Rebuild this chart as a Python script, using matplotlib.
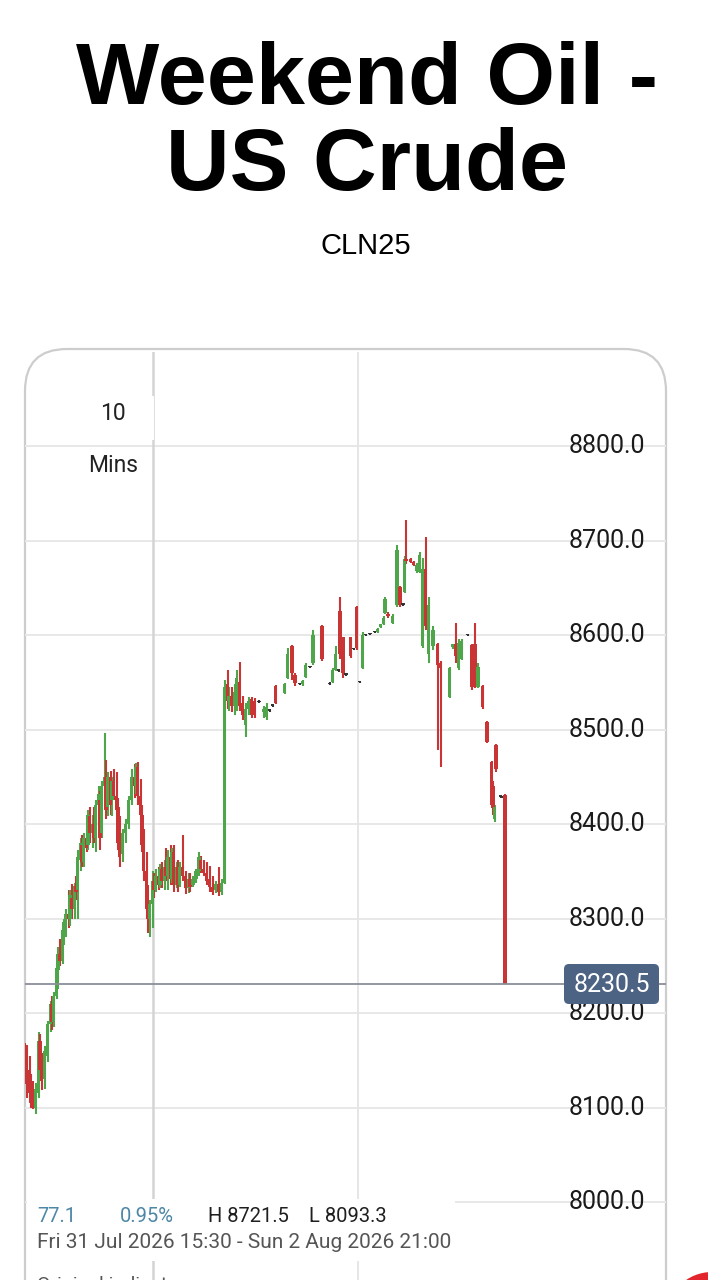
"""Weekend Oil - US Crude: 10 min candles, phone-screenshot style."""
import numpy as np
import matplotlib
matplotlib.use("Agg")
import matplotlib.pyplot as plt
from matplotlib.patches import FancyBboxPatch, Rectangle, Circle

# ---- data (10-min bar slot from Fri 15:30, OHLC) ----
slot = [0, 1, 3, 4, 5, 7, 9, 10, 11, 13, 15, 17, 18, 19, 21, 22, 23, 25, 26, 27,
        29, 30, 31, 33, 34, 35, 37, 38, 39, 41, 42, 43, 45, 46, 47, 49, 50, 51, 53, 54,
        55, 57, 58, 59, 61, 62, 63, 65, 67, 69, 71, 73, 74, 75, 77, 78, 79, 81, 82, 83,
        85, 86, 87, 89, 90, 91, 93, 94, 95, 97, 98, 99, 101, 102, 103, 105, 107, 109, 110, 112,
        114, 116, 117, 119, 121, 123, 125, 127, 129, 131, 133, 135, 136, 138, 140, 141, 143, 145, 147, 149,
        151, 153, 156, 159, 161, 163, 165, 167, 173, 175, 178, 180, 183, 185, 187, 190, 192, 198, 203, 205,
        207, 209, 210, 212, 214, 217, 219, 221, 223, 225, 227, 230, 233, 235, 237, 239, 240, 242, 245, 248,
        250, 252, 253, 254, 257, 259, 261, 263, 265, 267, 269, 272, 275, 277, 283, 285, 287, 289, 291, 295,
        298, 300, 302, 305, 308, 311, 312, 313, 314, 317, 318, 320]
opn = [8150, 8160, 8140, 8125, 8110, 8100, 8115, 8170, 8150, 8130, 8155, 8188, 8210, 8190, 8218, 8245, 8262, 8255, 8280, 8290,
       8305, 8300, 8322, 8310, 8334, 8330, 8362, 8378, 8360, 8385, 8378, 8408, 8390, 8400, 8385, 8420, 8425, 8390, 8440, 8450,
       8418, 8450, 8425, 8445, 8430, 8418, 8380, 8368, 8390, 8400, 8425, 8450, 8440, 8460, 8430, 8410, 8380, 8350, 8312, 8300,
       8315, 8340, 8330, 8345, 8335, 8352, 8340, 8355, 8345, 8365, 8342, 8370, 8335, 8355, 8335, 8355, 8345, 8332, 8342, 8335,
       8342, 8350, 8362, 8352, 8348, 8342, 8333, 8330, 8336, 8328, 8338, 8548, 8530, 8535, 8525, 8525, 8550, 8528, 8505, 8522,
       8532, 8530, 8530, 8518, 8513, 8520, 8525, 8546, 8539, 8555, 8588, 8558, 8548, 8548, 8556, 8566, 8570, 8610, 8548, 8550,
       8563, 8562, 8625, 8598, 8558, 8598, 8585, 8630, 8550, 8565, 8600, 8601, 8603, 8603, 8608, 8612, 8623, 8622, 8613, 8632,
       8651, 8632, 8645, 8680, 8680, 8677, 8668, 8667, 8588, 8670, 8580, 8588, 8590, 8570, 8534, 8587, 8590, 8565, 8575, 8600,
       8589, 8590, 8545, 8546, 8508, 8466, 8440, 8405, 8484, 8430, 8429, 8431]
high = [8168, 8166, 8155, 8135, 8128, 8126, 8180, 8178, 8158, 8165, 8192, 8213, 8218, 8222, 8252, 8270, 8278, 8292, 8300, 8310,
        8330, 8330, 8336, 8338, 8345, 8372, 8385, 8388, 8390, 8395, 8415, 8418, 8410, 8418, 8425, 8440, 8435, 8445, 8496, 8468,
        8455, 8456, 8450, 8458, 8455, 8428, 8408, 8395, 8405, 8430, 8458, 8463, 8465, 8466, 8448, 8420, 8395, 8370, 8335, 8320,
        8350, 8348, 8352, 8355, 8358, 8360, 8362, 8375, 8372, 8378, 8375, 8378, 8360, 8362, 8360, 8388, 8350, 8348, 8348, 8345,
        8352, 8370, 8366, 8362, 8360, 8356, 8345, 8340, 8355, 8342, 8552, 8563, 8545, 8545, 8548, 8563, 8571, 8535, 8528, 8534,
        8534, 8533, 8531, 8525, 8528, 8522, 8526, 8547, 8549, 8586, 8589, 8560, 8549, 8552, 8570, 8567, 8605, 8611, 8550, 8565,
        8588, 8563, 8640, 8598, 8559, 8598, 8586, 8631, 8551, 8603, 8601, 8602, 8604, 8607, 8612, 8620, 8640, 8624, 8622, 8695,
        8652, 8633, 8684, 8722, 8681, 8678, 8676, 8688, 8682, 8704, 8640, 8610, 8592, 8572, 8566, 8591, 8613, 8596, 8596, 8601,
        8590, 8613, 8570, 8547, 8509, 8467, 8445, 8420, 8485, 8431, 8430, 8432]
low = [8130, 8110, 8105, 8100, 8098, 8093, 8110, 8130, 8118, 8120, 8148, 8180, 8182, 8185, 8215, 8225, 8250, 8252, 8272, 8280,
       8290, 8292, 8300, 8300, 8320, 8300, 8350, 8355, 8355, 8370, 8372, 8380, 8375, 8380, 8370, 8400, 8372, 8385, 8420, 8405,
       8408, 8410, 8408, 8425, 8410, 8372, 8355, 8360, 8380, 8395, 8420, 8428, 8432, 8420, 8405, 8370, 8340, 8300, 8285, 8280,
       8290, 8322, 8328, 8330, 8332, 8332, 8330, 8340, 8330, 8335, 8338, 8328, 8332, 8328, 8333, 8340, 8326, 8327, 8328, 8333,
       8338, 8345, 8348, 8345, 8335, 8328, 8325, 8327, 8324, 8325, 8336, 8522, 8520, 8518, 8515, 8520, 8520, 8510, 8492, 8515,
       8512, 8512, 8528, 8512, 8510, 8518, 8524, 8527, 8538, 8553, 8552, 8546, 8547, 8546, 8555, 8565, 8568, 8572, 8547, 8549,
       8562, 8561, 8575, 8555, 8557, 8576, 8584, 8584, 8549, 8564, 8599, 8600, 8602, 8602, 8607, 8611, 8622, 8618, 8612, 8630,
       8630, 8631, 8644, 8675, 8676, 8673, 8666, 8666, 8586, 8605, 8570, 8584, 8478, 8460, 8533, 8585, 8570, 8563, 8574, 8599,
       8542, 8544, 8544, 8522, 8486, 8417, 8410, 8402, 8455, 8428, 8427, 8230.5]
close = [8140, 8125, 8115, 8108, 8105, 8120, 8170, 8140, 8128, 8160, 8188, 8210, 8190, 8218, 8248, 8262, 8255, 8288, 8296, 8305,
         8300, 8325, 8310, 8334, 8328, 8365, 8380, 8360, 8385, 8375, 8410, 8390, 8400, 8385, 8420, 8432, 8385, 8440, 8450, 8415,
         8450, 8420, 8445, 8430, 8415, 8380, 8365, 8390, 8400, 8425, 8450, 8440, 8460, 8430, 8410, 8378, 8350, 8310, 8300, 8315,
         8340, 8330, 8345, 8335, 8352, 8340, 8355, 8345, 8365, 8342, 8370, 8335, 8355, 8335, 8355, 8345, 8332, 8342, 8333, 8342,
         8350, 8365, 8352, 8348, 8340, 8333, 8328, 8336, 8328, 8338, 8545, 8530, 8535, 8525, 8540, 8555, 8525, 8515, 8522, 8530,
         8515, 8515, 8529, 8522, 8524, 8521, 8525, 8528, 8548, 8580, 8560, 8549, 8548, 8551, 8568, 8566, 8600, 8575, 8549, 8563,
         8580, 8562, 8580, 8560, 8558, 8578, 8585, 8586, 8550, 8600, 8600, 8601, 8603, 8606, 8612, 8618, 8638, 8620, 8620, 8690,
         8632, 8632, 8680, 8678, 8677, 8674, 8674, 8685, 8670, 8610, 8632, 8605, 8568, 8565, 8565, 8590, 8578, 8592, 8594, 8600,
         8545, 8548, 8566, 8524, 8487, 8420, 8418, 8418, 8458, 8429, 8428, 8230.5]

price_ticks = [8000, 8100, 8200, 8300, 8400, 8500, 8600, 8700, 8800]
vgrid_slots = [85, 222]
last_price = 8230.5
title_lines = ["Weekend Oil -", "US Crude"]
symbol = "CLN25"
stats = ["77.1", "0.95%", "H 8721.5", "L 8093.3"]
date_range = "Fri 31 Jul 2026 15:30 - Sun 2 Aug 2026 21:00"

GREEN = "#4fa54a"
RED = "#c93434"
W, H = 708, 1280

fig = plt.figure(figsize=(W / 100, H / 100), dpi=100)
fig.patch.set_facecolor("white")

# background layer (pixel coords)
bg = fig.add_axes([0, 0, 1, 1], zorder=0)
bg.set_xlim(0, W); bg.set_ylim(H, 0); bg.axis("off")
bg.add_patch(FancyBboxPatch((25, 349), 641, 1100, boxstyle="round,pad=0,rounding_size=42",
                            fc="white", ec="#cdcdcd", lw=1.6))
for yb, line in zip([104, 190], title_lines):
    bg.text(367, yb, line, ha="center", va="baseline", fontsize=63.5, fontweight="bold",
            family="Liberation Sans")
bg.text(366, 246, symbol, ha="center", va="center", fontsize=21, family="Liberation Sans")

# chart axes
x0, x1, ytop = 25, 666, 352
ax = fig.add_axes([x0 / W, 0, (x1 - x0) / W, (H - ytop) / H], zorder=1)
ax.patch.set_alpha(0)
px = 0.945  # pixels per price unit
ax.set_ylim(8000 - (H - 1202) / px, 8800 + (446 - ytop) / px)
ax.set_xlim(0, (x1 - x0) / 1.5)
for s in ax.spines.values():
    s.set_visible(False)
ax.set_xticks([]); ax.set_yticks([])

for p in price_ticks:
    ax.axhline(p, color="#e8e8e8", lw=1.4, zorder=0)
for i, v in enumerate(vgrid_slots):
    ax.axvline(v, color="#d4d4d4" if i == 0 else "#e6e6e6", lw=1.8 if i == 0 else 1.4, zorder=0)

o = np.array(opn, float); c = np.array(close, float)
hi = np.array(high, float); lo = np.array(low, float); k = np.array(slot, float)
cols = np.where(np.abs(c - o) < 2, "#333333", np.where(c >= o, GREEN, RED))
ax.vlines(k, lo, hi, colors=cols, lw=1.5, zorder=2)
ax.bar(k, np.maximum(np.abs(c - o), 1.5), bottom=np.minimum(o, c), width=2.4,
       color=cols, lw=0, zorder=3)

ax.axhline(last_price, color="#8a8f98", lw=1.3, zorder=4)

yl = ax.get_yaxis_transform()
for p in price_ticks:
    ax.text(0.967, p, f"{p:.1f}", transform=yl, ha="right", va="center",
            fontsize=18, family="Roboto", color="#1a1a1a", zorder=5)

# foreground layer
fg = fig.add_axes([0, 0, 1, 1], zorder=3)
fg.set_xlim(0, W); fg.set_ylim(H, 0); fg.axis("off")
fg.add_patch(Rectangle((140, 396), 14, 44, fc="white", ec="none"))
fg.text(113, 413, "10", ha="center", va="center", fontsize=16.5, family="Roboto", color="#222")
fg.text(113, 465, "Mins", ha="center", va="center", fontsize=16.5, family="Roboto", color="#222")

fg.add_patch(FancyBboxPatch((564, 964), 95, 40, boxstyle="round,pad=0,rounding_size=5",
                            fc="#4d6384", ec="none"))
fg.text(611.5, 985, f"{last_price:.1f}", ha="center", va="center", fontsize=18,
        family="Roboto", color="white")

fg.add_patch(Rectangle((27, 1199), 428, 62, fc="white", ec="none"))
stat_x = [37, 120, 208, 309]
stat_c = ["#4d87a6", "#4d87a6", "#1f1f1f", "#1f1f1f"]
for sx, st, sc in zip(stat_x, stats, stat_c):
    fg.text(sx, 1217, st, ha="left", va="center", fontsize=14.5, family="Roboto", color=sc)
fg.text(37, 1242, date_range, ha="left", va="center", fontsize=15, family="Roboto", color="#555555")
fg.text(37, 1285, "Original indicator", ha="left", va="center", fontsize=14,
        family="Roboto", color="#555555")
fg.add_patch(Circle((712, 1318), 46, fc="#e3262d", ec="none"))

fig.savefig("out.png", dpi=100)
